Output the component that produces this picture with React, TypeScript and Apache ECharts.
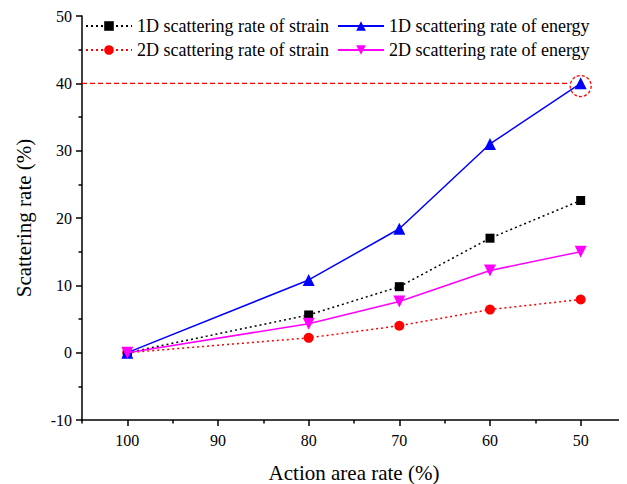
import React, { useEffect, useRef } from "react";
import * as echarts from "echarts";

const xValues = [100, 80, 70, 60, 50];
const strain1D = [0, 5.6, 9.8, 17.0, 22.6];
const energy1D = [0, 10.8, 18.4, 31.0, 40.0];
const strain2D = [0, 2.2, 4.0, 6.4, 7.9];
const energy2D = [0, 4.3, 7.6, 12.2, 15.0];
const refLine = [[105, 40], [51.4, 40]];
const highlightPoint = [50, 39.6];
const xMajorTicks = [50, 60, 70, 80, 90, 100];
const xMinorTicks = [45, 55, 65, 75, 85, 95, 105];

const FONT = "Times New Roman";

function pairs(ys: number[]) {
  return xValues.map((x, i) => [x, ys[i]]);
}

export default function App() {
  const ref = useRef<HTMLDivElement>(null);
  useEffect(() => {
    if (!ref.current) return;
    const chart = echarts.init(ref.current, undefined, { renderer: "svg" });
    const baseX = {
      type: "value" as const,
      min: 45,
      max: 105,
      inverse: true,
      splitLine: { show: false },
    };
    const legendText = { fontFamily: FONT, fontSize: 18, color: "#000" };
    chart.setOption({
      animation: false,
      backgroundColor: "#fff",
      textStyle: { fontFamily: FONT },
      grid: { left: 82, top: 16, right: 1, bottom: 64, outerBoundsMode: "none", containLabel: false },
      legend: [
        {
          orient: "vertical",
          left: 80,
          top: 12,
          itemWidth: 46,
          itemHeight: 12,
          itemGap: 6,
          textStyle: legendText,
          data: ["1D scattering rate of strain", "2D scattering rate of strain"],
        },
        {
          orient: "vertical",
          left: 332,
          top: 12,
          itemWidth: 46,
          itemHeight: 12,
          itemGap: 6,
          textStyle: legendText,
          data: ["1D scattering rate of energy", "2D scattering rate of energy"],
        },
      ],
      xAxis: [
        {
          ...baseX,
          name: "Action area rate (%)",
          nameLocation: "middle",
          nameGap: 42,
          nameTextStyle: { fontFamily: FONT, fontSize: 21, color: "#000" },
          axisLine: { show: true, onZero: false, lineStyle: { color: "#000", width: 1.5 } },
          axisTick: { show: true, length: 6, customValues: xMajorTicks, lineStyle: { color: "#000", width: 1.5 } },
          axisLabel: { customValues: xMajorTicks, margin: 12, fontFamily: FONT, fontSize: 16, color: "#000" },
        },
        {
          ...baseX,
          position: "bottom",
          axisLine: { show: false, onZero: false },
          axisTick: { show: true, length: 3.5, customValues: xMinorTicks, lineStyle: { color: "#000", width: 1.5 } },
          axisLabel: { show: false },
        },
      ],
      yAxis: {
        type: "value",
        min: -10,
        max: 50,
        interval: 10,
        name: "Scattering rate (%)",
        nameLocation: "middle",
        nameGap: 48,
        nameTextStyle: { fontFamily: FONT, fontSize: 21, color: "#000" },
        splitLine: { show: false },
        axisLine: { show: true, onZero: false, lineStyle: { color: "#000", width: 1.5 } },
        axisTick: { show: true, length: 6, lineStyle: { color: "#000", width: 1.5 } },
        minorTick: { show: true, splitNumber: 2, length: 3.5, lineStyle: { color: "#000", width: 1.5 } },
        axisLabel: { margin: 10, fontFamily: FONT, fontSize: 16, color: "#000" },
      },
      series: [
        {
          name: "reference",
          type: "line",
          data: refLine,
          symbol: "none",
          silent: true,
          lineStyle: { color: "#ff0000", type: [5, 3], width: 1.4 },
          z: 1,
        },
        {
          name: "1D scattering rate of strain",
          type: "line",
          data: pairs(strain1D),
          symbol: "rect",
          symbolSize: 9,
          itemStyle: { color: "#000" },
          lineStyle: { color: "#000", width: 1.5, type: [2, 3] },
          z: 3,
        },
        {
          name: "2D scattering rate of strain",
          type: "line",
          data: pairs(strain2D),
          symbol: "circle",
          symbolSize: 10,
          itemStyle: { color: "#ff0000" },
          lineStyle: { color: "#ff0000", width: 1.5, type: [2, 3] },
          z: 2,
        },
        {
          name: "1D scattering rate of energy",
          type: "line",
          data: pairs(energy1D),
          symbol: "triangle",
          symbolSize: 12,
          itemStyle: { color: "#0000ff" },
          lineStyle: { color: "#0000ff", width: 1.5 },
          z: 4,
          markPoint: {
            silent: true,
            symbol: "circle",
            symbolSize: 21,
            label: { show: false },
            itemStyle: { color: "rgba(0,0,0,0)", borderColor: "#ff0000", borderWidth: 1.3, borderType: [3, 2] },
            data: [{ coord: highlightPoint }],
          },
        },
        {
          name: "2D scattering rate of energy",
          type: "line",
          data: pairs(energy2D),
          symbol: "triangle",
          symbolRotate: 180,
          symbolSize: 12,
          itemStyle: { color: "#ff00ff" },
          lineStyle: { color: "#ff00ff", width: 1.5 },
          z: 5,
        },
      ],
    });
    return () => chart.dispose();
  }, []);
  return <div ref={ref} style={{ width: 627, height: 484, marginLeft: -8, marginTop: -8 }} />;
}
